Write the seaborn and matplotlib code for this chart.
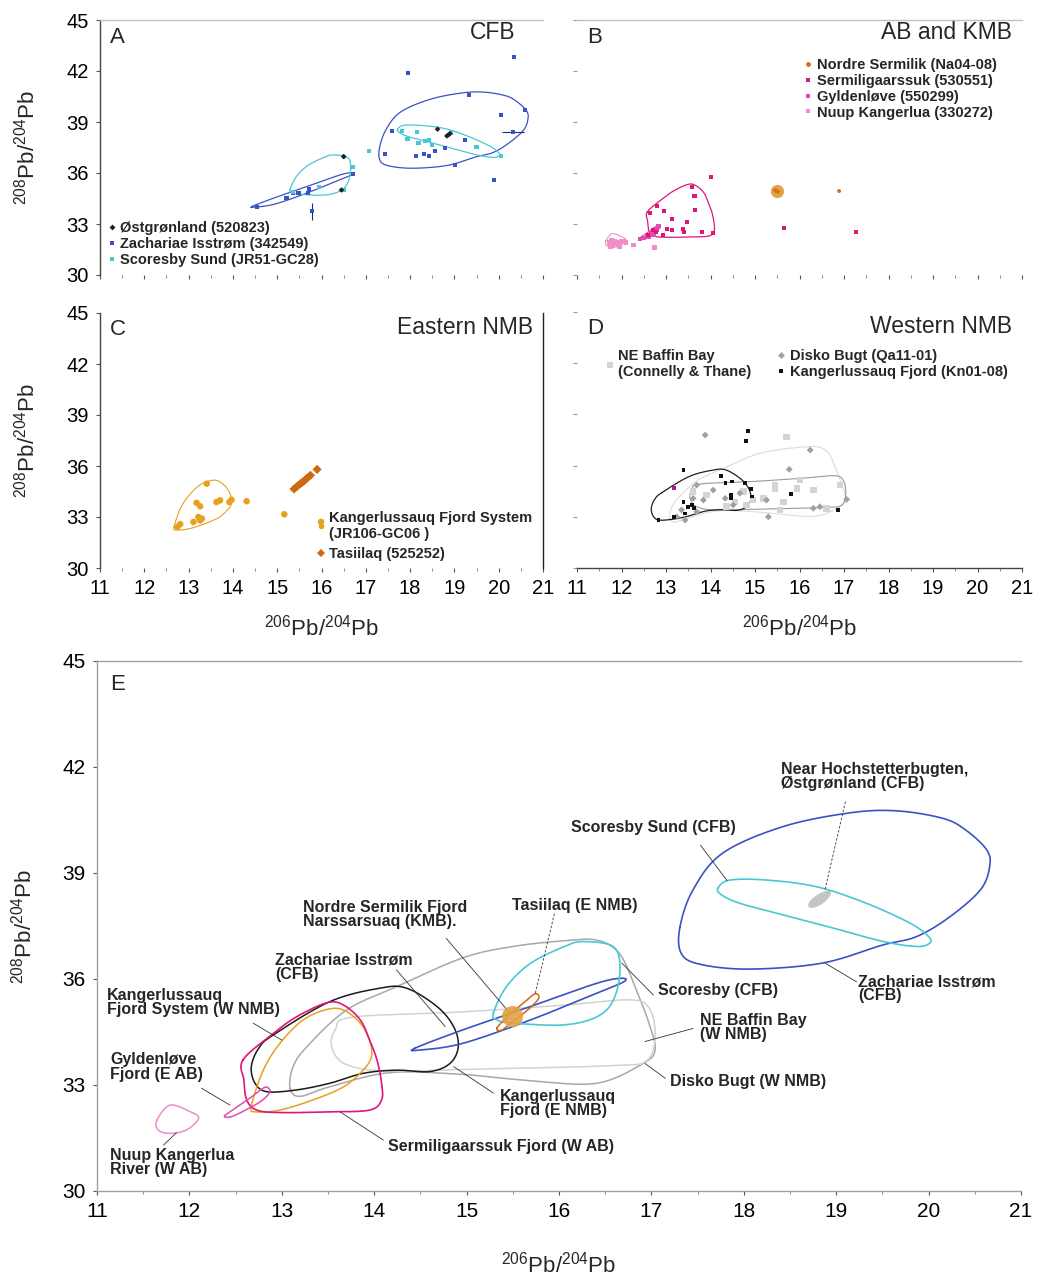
import numpy as np
import matplotlib
matplotlib.use('Agg')
import matplotlib.pyplot as plt
import seaborn as sns
from matplotlib.lines import Line2D

sns.set_theme(style='white')
plt.rcParams['font.family'] = ['Liberation Sans', 'DejaVu Sans']
plt.rcParams['mathtext.fontset'] = 'custom'
plt.rcParams['mathtext.rm'] = 'Liberation Sans'
plt.rcParams['mathtext.it'] = 'Liberation Sans'

# ---------------- data: sample points ----------------
# Panel A (CFB)
ostg_x = [18.87, 18.90, 18.83, 18.62, 16.50, 16.45]
ostg_y = [38.25, 38.32, 38.18, 38.58, 36.97, 35.00]
zach_x = [20.35, 17.96, 19.33, 20.59, 20.05, 20.32, 17.60, 19.24, 18.79, 18.56, 17.43, 18.13,
          18.32, 18.43, 19.01, 19.90, 16.72, 15.72, 15.48, 15.36, 15.69, 15.21, 14.54, 15.78]
zach_y = [42.84, 41.86, 40.59, 39.71, 39.41, 38.43, 38.49, 37.94, 37.45, 37.31, 37.12, 37.02,
          37.12, 37.02, 36.47, 35.59, 35.94, 35.06, 34.84, 34.84, 34.84, 34.55, 34.02, 33.76]
zach_err_x = [15.78, 20.32]
zach_err_y = [33.76, 38.43]
zach_xerr = [0.0, 0.25]
zach_yerr = [0.50, 0.0]
scor_x = [17.07, 17.82, 18.16, 17.94, 18.19, 18.34, 18.43, 18.50, 18.92, 19.50, 20.05,
          16.51, 16.70, 16.51, 15.94, 15.36]
scor_y = [37.29, 38.49, 38.39, 38.00, 37.78, 37.88, 37.94, 37.65, 38.34, 37.55, 37.00,
          36.96, 36.37, 35.00, 35.19, 34.88]

# Panel B (AB and KMB)
nord_x = [15.45, 15.52, 15.48, 16.89]
nord_y = [34.98, 34.90, 34.94, 34.94]
nord_blob = [(15.49, 34.94)]
serm_x = [14.01, 13.58, 13.64, 12.79, 12.96, 13.66, 12.64, 13.14, 13.47, 13.03, 13.14, 13.38,
          13.40, 13.80, 14.06, 12.94, 12.78, 15.65, 17.27, 12.71, 12.60]
serm_y = [35.78, 35.19, 34.65, 34.06, 33.76, 33.80, 33.63, 33.28, 33.10, 32.71, 32.65, 32.69,
          32.51, 32.51, 32.45, 32.35, 32.55, 32.75, 32.55, 32.65, 32.35]
gyld_x = [12.83, 12.79, 12.68, 12.57, 12.49, 12.42, 12.72, 12.61, 12.76]
gyld_y = [32.88, 32.65, 32.45, 32.29, 32.16, 32.10, 32.38, 32.22, 32.70]
nuup_x = [11.72, 11.78, 11.85, 11.90, 11.95, 12.00, 12.05, 12.10, 11.80, 11.75, 11.95, 12.27, 12.74]
nuup_y = [31.90, 32.05, 31.95, 31.85, 31.90, 32.00, 31.95, 31.90, 31.75, 31.70, 31.70, 31.76, 31.60]

# Panel C (Eastern NMB)
kfs_x = [13.41, 13.18, 13.26, 13.63, 13.71, 13.92, 13.97, 14.31, 13.22, 13.30, 13.26, 13.11,
         12.81, 12.75, 15.16, 15.99]
kfs_y = [34.96, 33.83, 33.63, 33.88, 33.98, 33.88, 34.02, 33.93, 33.00, 32.91, 32.80, 32.71,
         32.58, 32.42, 33.16, 32.71]
tasi_x = [15.38, 15.45, 15.52, 15.57, 15.62, 15.68, 15.75, 15.90]
tasi_y = [34.65, 34.80, 34.95, 35.05, 35.15, 35.30, 35.45, 35.80]

# Panel D (Western NMB)
kn_x = [14.85, 14.80, 13.39, 14.23, 14.34, 14.49, 14.78, 14.91, 14.46, 14.46, 14.93, 15.81,
        13.39, 13.50, 13.59, 13.63, 13.43, 13.18, 12.83, 16.87]
kn_y = [38.04, 37.46, 35.74, 35.39, 35.00, 35.06, 35.00, 34.63, 34.28, 34.08, 34.18, 34.34,
        33.88, 33.59, 33.69, 33.50, 33.20, 33.00, 32.81, 33.40]
kn_odd_x = [13.18]
kn_odd_y = [34.67]
disko_x = [13.88, 16.24, 15.77, 13.69, 14.06, 13.61, 14.33, 13.84, 14.66, 14.51, 15.26, 16.31,
           16.46, 15.30, 17.06, 13.24, 13.43, 13.35, 13.69]
disko_y = [37.79, 36.91, 35.78, 34.86, 34.57, 34.08, 34.08, 33.98, 34.38, 33.69, 33.98, 33.50,
           33.59, 33.00, 34.02, 33.00, 32.81, 33.40, 33.30]
baffin_x = [15.71, 15.45, 15.45, 14.74, 15.94, 16.31, 16.91, 16.01, 15.19, 14.55, 14.81, 14.36,
            16.61, 15.56, 13.91, 13.61, 14.96, 15.64]
baffin_y = [37.69, 34.86, 34.67, 34.47, 34.67, 34.57, 34.86, 35.16, 34.08, 33.88, 33.69, 33.59,
            33.50, 33.40, 34.28, 34.47, 33.98, 33.88]

# ---------------- data: envelope outlines (x, y) ----------------
env_zach_upper = [(17.31, 37.48), (17.45, 38.52), (17.77, 39.56), (18.42, 40.31), (19.14, 40.70),
                  (19.65, 40.76), (20.15, 40.55), (20.40, 40.22), (20.63, 39.65), (20.66, 39.17),
                  (20.56, 38.52), (20.23, 37.76), (19.87, 37.20), (19.50, 36.96), (18.85, 36.45),
                  (18.06, 36.28), (17.52, 36.42), (17.32, 36.74)]
env_scor_upper = [(17.72, 38.57), (17.85, 38.80), (18.25, 38.80), (18.79, 38.61), (19.33, 38.14),
                  (19.80, 37.58), (20.00, 37.20), (20.01, 37.01), (19.87, 36.92), (19.51, 37.06),
                  (18.97, 37.44), (18.43, 37.81), (17.96, 38.14), (17.76, 38.38)]
env_zach_lower = [(14.44, 34.04), (14.96, 34.56), (15.69, 35.22), (16.41, 35.88), (16.68, 36.02),
                  (16.70, 35.92), (16.41, 35.60), (15.69, 34.84), (14.96, 34.18), (14.50, 33.99)]
env_scor_lower = [(15.29, 35.03), (15.43, 35.78), (15.69, 36.44), (16.05, 36.91), (16.26, 37.06),
                  (16.59, 36.91), (16.66, 36.26), (16.59, 35.41), (16.41, 34.93), (16.05, 34.70),
                  (15.51, 34.75), (15.33, 34.84)]
env_serm = [(12.58, 33.71), (12.91, 34.46), (13.16, 34.93), (13.49, 35.33), (13.67, 35.26),
            (13.85, 34.84), (13.95, 34.27), (14.03, 33.71), (14.08, 33.05), (14.08, 32.58),
            (13.95, 32.29), (13.52, 32.24), (12.98, 32.22), (12.73, 32.29), (12.62, 32.58),
            (12.59, 33.14)]
env_gyld = [(12.38, 32.12), (12.50, 32.35), (12.65, 32.62), (12.78, 32.88), (12.84, 32.94),
            (12.87, 32.80), (12.78, 32.55), (12.60, 32.28), (12.45, 32.10)]
env_nuup = [(11.65, 32.01), (11.79, 32.43), (12.01, 32.24), (12.10, 32.06), (11.97, 31.73),
            (11.79, 31.63), (11.66, 31.73)]
env_kfs = [(12.67, 32.39), (12.80, 33.42), (12.98, 34.18), (13.23, 34.84), (13.49, 35.14),
           (13.67, 35.12), (13.85, 34.75), (13.95, 34.27), (13.97, 33.80), (13.88, 33.42),
           (13.67, 32.95), (13.34, 32.58), (12.98, 32.29), (12.73, 32.24)]
env_kn = [(12.91, 34.42), (13.52, 35.36), (14.06, 35.74), (14.35, 35.74), (14.68, 35.22),
          (14.86, 34.65), (14.91, 34.08), (14.82, 33.61), (14.60, 33.38), (14.24, 33.42),
          (13.88, 33.33), (13.52, 33.05), (13.16, 32.86), (12.84, 32.81), (12.71, 33.05),
          (12.67, 33.52), (12.75, 34.04)]
env_baffin = [(13.09, 32.90), (13.12, 33.50), (13.27, 34.08), (13.70, 35.12), (14.24, 35.78),
              (14.96, 36.60), (15.50, 36.92), (16.05, 37.08), (16.41, 37.10), (16.66, 36.70),
              (16.85, 35.60), (16.98, 34.70), (17.04, 34.00), (16.91, 33.61), (16.41, 33.05),
              (15.69, 33.12), (14.96, 33.30), (14.17, 33.35), (13.52, 32.95), (13.20, 32.68)]
env_disko = [(13.58, 34.57), (13.76, 34.92), (14.89, 35.06), (16.01, 35.25), (16.76, 35.41),
             (16.98, 35.16), (17.04, 34.37), (16.95, 33.69), (16.61, 33.55), (15.26, 33.46),
             (14.14, 33.40), (13.69, 33.59), (13.54, 34.08)]
env_tasi = [(15.33, 34.62), (15.47, 35.00), (15.62, 35.33), (15.74, 35.58), (15.78, 35.45),
            (15.66, 35.12), (15.50, 34.80), (15.38, 34.55)]
env_hoch = [(18.70, 38.05), (18.72, 38.22), (18.82, 38.42), (18.92, 38.50), (18.94, 38.38),
            (18.86, 38.15), (18.76, 38.02)]

x_ticks = [11, 12, 13, 14, 15, 16, 17, 18, 19, 20, 21]
y_ticks = [30, 33, 36, 39, 42, 45]

# ---------------- colours ----------------
C_ZACH = '#3a52c4'
C_SCOR = '#48c8d4'
C_OSTG = '#202020'
C_NORD = '#d07020'
C_NORD_BLOB = '#e3a246'
C_SERM = '#e0157a'
C_GYLD = '#e04cb0'
C_NUUP = '#f08cc8'
C_KFS = '#e8a020'
C_TASI = '#d06810'
C_KN = '#101010'
C_DISKO = '#a0a0a0'
C_BAFFIN = '#d4d4d4'


def closed_curve(pts, n=24):
    P = np.asarray(pts, float)
    N = len(P)
    t = np.linspace(0, 1, n, endpoint=False)[:, None]
    segs = []
    for i in range(N):
        p0, p1, p2, p3 = P[(i - 1) % N], P[i], P[(i + 1) % N], P[(i + 2) % N]
        segs.append(0.5 * (2 * p1 + (p2 - p0) * t + (2 * p0 - 5 * p1 + 4 * p2 - p3) * t ** 2
                           + (3 * p1 - p0 - 3 * p2 + p3) * t ** 3))
    C = np.vstack(segs + [P[:1]])
    return C[:, 0], C[:, 1]


def envelope(ax, pts, color, lw=1.0, fill=False):
    x, y = closed_curve(pts)
    if fill:
        ax.fill(x, y, color=color, lw=0)
    else:
        ax.plot(x, y, color=color, lw=lw, solid_joinstyle='round')


def pts(ax, x, y, color, marker='s', s=8, alpha=1.0):
    sns.scatterplot(x=x, y=y, ax=ax, color=color, marker=marker, s=s, linewidth=0,
                    edgecolor='none', legend=False, alpha=alpha, zorder=3)


W, H = 1037, 1276
fig = plt.figure(figsize=(W / 100, H / 100), dpi=100)


def add_ax(l, r, t, b):
    return fig.add_axes([l / W, 1 - b / H, (r - l) / W, (b - t) / H])


axA = add_ax(100, 543, 20, 275)
axB = add_ax(577, 1022, 20, 275)
axC = add_ax(100, 543, 313, 568)
axD = add_ax(577, 1022, 312, 568)
axE = add_ax(97, 1021, 661, 1191)

YLAB = r'$^{208}$Pb/$^{204}$Pb'
XLAB = r'$^{206}$Pb/$^{204}$Pb'
SPINE = '#8a8a8a'

for ax in (axA, axB, axC, axD, axE):
    ax.set_xlim(11, 21)
    ax.set_ylim(30, 45)
    ax.set_xticks(x_ticks)
    ax.set_yticks(y_ticks)
    ax.set_facecolor('white')
    for sp in ax.spines.values():
        sp.set_visible(False)
        sp.set_color(SPINE)
        sp.set_linewidth(1.0)
    ax.tick_params(axis='both', which='both', length=3, width=0.8, color='#555555',
                   labelsize=14.5, labelcolor='black', pad=5, direction='out',
                   bottom=True, left=True)
    ax.set_xlabel('')
    ax.set_ylabel('')
    ax.set_xticks(np.arange(11, 21.01, 0.5), minor=True)
    ax.tick_params(axis='x', which='minor', length=2, color='#777777', width=0.6)

# spine visibility per panel
axA.spines['left'].set_visible(True); axA.spines['left'].set_color('#444444')
axA.spines['top'].set_visible(True); axA.spines['top'].set_color('#c0c0c0')
axA.tick_params(axis='x', labelbottom=False)
axB.spines['top'].set_visible(True); axB.spines['top'].set_color('#c0c0c0')
axB.tick_params(axis='x', labelbottom=False)
axB.tick_params(axis='y', labelleft=False, color='#999999')
axC.spines['left'].set_visible(True); axC.spines['left'].set_color('#444444')
axC.spines['right'].set_visible(True); axC.spines['right'].set_color('#222222')
axD.spines['bottom'].set_visible(True); axD.spines['bottom'].set_color('#444444')
axD.tick_params(axis='y', labelleft=False, color='#999999')
for s in ('left', 'top', 'bottom'):
    axE.spines[s].set_visible(True)
    axE.spines[s].set_color('#a0a0a0')
axE.tick_params(axis='both', labelsize=15)

for ax in (axA, axC):
    ax.set_ylabel(YLAB, fontsize=16, labelpad=19)
axE.set_ylabel(YLAB, fontsize=16, labelpad=19)
for ax in (axC, axD):
    ax.set_xlabel(XLAB, fontsize=16, labelpad=12)
axE.set_xlabel(XLAB, fontsize=16, labelpad=22)


def titles(ax, letter, name, lx, ly, nx, ny):
    ax.text(lx, ly, letter, transform=ax.transAxes, fontsize=16, va='center', ha='left')
    ax.text(nx, ny, name, transform=ax.transAxes, fontsize=16.5, va='center', ha='right')


titles(axA, 'A', 'CFB', 0.022, 0.93, 0.939, 0.95)
titles(axB, 'B', 'AB and KMB', 0.022, 0.93, 0.978, 0.95)
titles(axC, 'C', 'Eastern NMB', 0.022, 0.935, 0.978, 0.945)
titles(axD, 'D', 'Western NMB', 0.022, 0.935, 0.978, 0.945)
axE.text(0.014, 0.955, 'E', transform=axE.transAxes, fontsize=16, va='center', ha='left')

# ---------------- Panel A ----------------
envelope(axA, env_zach_upper, C_ZACH, 0.9)
envelope(axA, env_zach_lower, C_ZACH, 0.9)
envelope(axA, env_scor_upper, C_SCOR, 0.9)
envelope(axA, env_scor_lower, C_SCOR, 0.9)
axA.errorbar(zach_err_x, zach_err_y, xerr=zach_xerr, yerr=zach_yerr, fmt='none',
             ecolor='#1a2a80', elinewidth=0.8, capsize=0)
pts(axA, zach_x, zach_y, C_ZACH, 's', 9)
pts(axA, scor_x, scor_y, C_SCOR, 's', 9)
pts(axA, ostg_x, ostg_y, C_OSTG, 'D', 8)

LEG = dict(frameon=False, borderpad=0, borderaxespad=0, handlelength=0.5,
           handletextpad=0.35, labelspacing=0.12, prop={'size': 10.5, 'weight': 'bold'})


def h(color, marker, ms=3.5):
    return Line2D([], [], ls='none', marker=marker, color=color, markersize=ms, mew=0)


axA.legend([h(C_OSTG, 'D', 3), h(C_ZACH, 's', 3), h(C_SCOR, 's', 3)],
           ['Østgrønland (520823)', 'Zachariae Isstrøm (342549)', 'Scoresby Sund (JR51-GC28)'],
           loc='upper left', bbox_to_anchor=(0.018, 0.21), **LEG)

# ---------------- Panel B ----------------
envelope(axB, env_serm, C_SERM, 0.9)
envelope(axB, env_gyld, C_GYLD, 0.8)
envelope(axB, env_nuup, C_NUUP, 0.8)
sns.scatterplot(x=[p[0] for p in nord_blob], y=[p[1] for p in nord_blob], ax=axB,
                color=C_NORD_BLOB, s=90, linewidth=0, legend=False, zorder=2)
pts(axB, nord_x, nord_y, C_NORD, 'o', 8)
pts(axB, nuup_x, nuup_y, C_NUUP, 's', 12)
pts(axB, gyld_x, gyld_y, C_GYLD, 's', 10)
pts(axB, serm_x, serm_y, C_SERM, 's', 9)
axB.legend([h(C_NORD, 'o'), h(C_SERM, 's', 3), h(C_GYLD, 's', 3), h(C_NUUP, 's', 3)],
           ['Nordre Sermilik (Na04-08)', 'Sermiligaarssuk (530551)', 'Gyldenløve (550299)',
            'Nuup Kangerlua (330272)'],
           loc='upper left', bbox_to_anchor=(0.512, 0.85), **LEG)

# ---------------- Panel C ----------------
envelope(axC, env_kfs, C_KFS, 0.8)
pts(axC, kfs_x, kfs_y, C_KFS, 'o', 22)
pts(axC, tasi_x, tasi_y, C_TASI, 'D', 22)
legC = dict(LEG)
legC['labelspacing'] = 0.4
axC.legend([h(C_KFS, 'o', 4), h(C_TASI, 'D', 4)],
           ['Kangerlussauq Fjord System\n(JR106-GC06 )', 'Tasiilaq (525252)'],
           loc='upper left', bbox_to_anchor=(0.49, 0.225), **legC)

# ---------------- Panel D ----------------
envelope(axD, env_baffin, '#dcdcdc', 0.8)
envelope(axD, env_disko, '#9a9a9a', 0.8)
envelope(axD, env_kn, '#202020', 0.9)
pts(axD, baffin_x, baffin_y, C_BAFFIN, 's', 22)
pts(axD, disko_x, disko_y, C_DISKO, 'D', 12)
pts(axD, kn_x, kn_y, C_KN, 's', 7)
pts(axD, kn_odd_x, kn_odd_y, '#a020a0', 's', 10)
lg1 = axD.legend([h(C_BAFFIN, 's', 4)], ['NE Baffin Bay\n(Connelly & Thane)'],
                 loc='upper left', bbox_to_anchor=(0.065, 0.855), **LEG)
axD.add_artist(lg1)
axD.legend([h(C_DISKO, 'D', 3.5), h(C_KN, 's', 2.5)],
           ['Disko Bugt (Qa11-01)', 'Kangerlussauq Fjord (Kn01-08)'],
           loc='upper left', bbox_to_anchor=(0.45, 0.855), **LEG)

# ---------------- Panel E ----------------
envelope(axE, env_baffin, '#a8a8a8', 1.1)
envelope(axE, env_disko, '#d2d2d2', 1.1)
envelope(axE, env_kn, '#1a1a1a', 1.1)
envelope(axE, env_kfs, C_KFS, 1.1)
envelope(axE, env_serm, C_SERM, 1.2)
envelope(axE, env_gyld, C_GYLD, 1.1)
envelope(axE, env_nuup, C_NUUP, 1.1)
envelope(axE, env_zach_upper, C_ZACH, 1.2)
envelope(axE, env_zach_lower, C_ZACH, 1.2)
envelope(axE, env_scor_upper, C_SCOR, 1.2)
envelope(axE, env_scor_lower, C_SCOR, 1.2)
envelope(axE, env_tasi, C_TASI, 1.1)
envelope(axE, env_hoch, '#c4c4c4', fill=True)
sns.scatterplot(x=[p[0] for p in nord_blob], y=[p[1] for p in nord_blob], ax=axE,
                color=C_NORD_BLOB, s=230, linewidth=0, legend=False, alpha=0.9, zorder=3)

LBL = dict(fontsize=11.5, fontweight='bold', va='top', ha='left', linespacing=0.95)
labels_E = [
    (18.40, 42.14, 'Near Hochstetterbugten,\nØstgrønland (CFB)', (19.10, 41.02), (18.88, 38.54), '--'),
    (16.13, 40.50, 'Scoresby Sund (CFB)', (17.53, 39.79), (17.82, 38.78), '-'),
    (15.49, 38.29, 'Tasiilaq (E NMB)', (15.95, 37.85), (15.74, 35.55), '--'),
    (13.23, 38.24, 'Nordre Sermilik Fjord\nNarssarsuaq (KMB).', (14.78, 37.15), (15.47, 35.03), '-'),
    (12.93, 36.76, 'Zachariae Isstrøm\n(CFB)', (14.24, 36.26), (14.77, 34.65), '-'),
    (11.11, 35.75, 'Kangerlussauq\nFjord System (W NMB)', (12.69, 34.75), (13.00, 34.27), '-'),
    (11.14, 33.93, 'Gyldenløve\nFjord (E AB)', (12.13, 32.91), (12.44, 32.43), '-'),
    (11.14, 31.22, 'Nuup Kangerlua\nRiver (W AB)', (11.72, 31.30), (11.86, 31.65), '-'),
    (14.15, 31.47, 'Sermiligaarssuk Fjord (W AB)', (14.10, 31.44), (13.63, 32.24), '-'),
    (15.36, 32.89, 'Kangerlussauq\nFjord (E NMB)', (15.29, 32.77), (14.86, 33.52), '-'),
    (17.07, 35.89, 'Scoresby (CFB)', (17.02, 35.55), (16.68, 36.45), '-'),
    (17.53, 35.04, 'NE Baffin Bay\n(W NMB)', (17.45, 34.60), (16.93, 34.23), '-'),
    (17.20, 33.31, 'Disko Bugt (W NMB)', (17.15, 33.19), (16.93, 33.61), '-'),
    (19.24, 36.14, 'Zachariae Isstrøm\n(CFB)', (19.22, 35.92), (18.88, 36.45), '-'),
]
for tx, ty, txt, p0, p1, ls in labels_E:
    axE.text(tx, ty, txt, **LBL)
    axE.plot([p0[0], p1[0]], [p0[1], p1[1]], color='#333333', lw=0.6,
             linestyle=(0, (3, 2)) if ls == '--' else '-')

fig.savefig('out.png', dpi=100, facecolor='white')
